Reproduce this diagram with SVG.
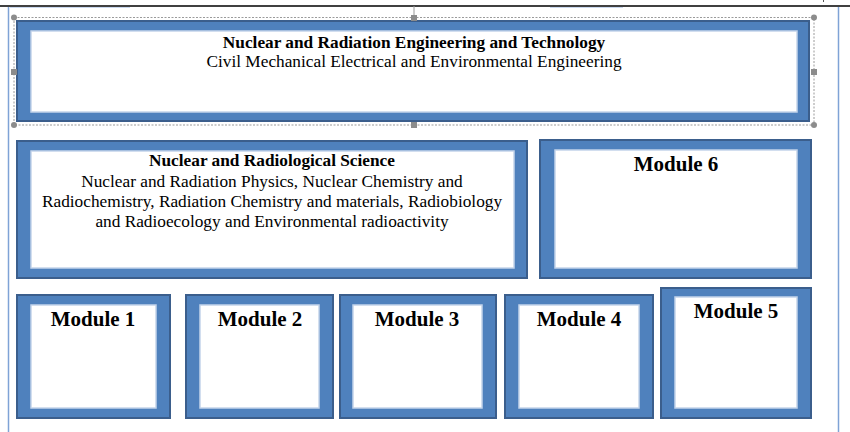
<svg xmlns="http://www.w3.org/2000/svg" width="850" height="432" viewBox="0 0 850 432">
<style>
.frame{fill:#4f81bd;stroke:#3b5e8c;stroke-width:2}
.inner{fill:#ffffff;stroke:#c4d4ea;stroke-width:1.5}
text{font-family:"Liberation Serif","Times New Roman",serif;fill:#000;text-anchor:middle}
.b{font-weight:bold;font-size:17.3px}
.r{font-size:17.3px}
.m{font-weight:bold;font-size:21px}
.sel{fill:none;stroke:#9a9a9a;stroke-width:1;stroke-dasharray:2 1.5}
.hc{fill:#8c8c8c}
</style>
<rect width="850" height="432" fill="#ffffff"/>
<line x1="10" y1="7.5" x2="130" y2="7.5" stroke="#c9d8ee" stroke-width="1"/>
<line x1="550" y1="7.5" x2="623" y2="7.5" stroke="#c9d8ee" stroke-width="1"/>
<line x1="0" y1="6" x2="850" y2="6" stroke="#000" stroke-width="1.5"/>
<line x1="8.5" y1="7" x2="8.5" y2="432" stroke="#7fa3d6" stroke-width="1.5"/>
<line x1="838.5" y1="7" x2="838.5" y2="432" stroke="#7fa3d6" stroke-width="1.5"/>
<line x1="823.5" y1="0" x2="823.5" y2="2" stroke="#555" stroke-width="1"/>

<g id="node-top">
<rect class="frame" x="17" y="21" width="792" height="100"/>
<rect class="inner" x="31" y="31" width="766" height="81"/>
<text class="b" x="414" y="48">Nuclear and Radiation Engineering and Technology</text>
<text class="r" x="414" y="67">Civil Mechanical Electrical and Environmental Engineering</text>
</g>

<g id="selection">
<rect class="sel" x="14" y="17.5" width="800" height="107.5"/>
<line x1="414" y1="6" x2="414" y2="17" stroke="#9a9a9a" stroke-width="1"/>
<circle class="hc" cx="14" cy="17.5" r="3"/>
<circle class="hc" cx="814" cy="17.5" r="3"/>
<circle class="hc" cx="14" cy="125" r="3"/>
<circle class="hc" cx="814" cy="125" r="3"/>
<rect class="hc" x="411" y="15" width="6" height="6"/>
<rect class="hc" x="411" y="122" width="6" height="6"/>
<rect class="hc" x="11" y="69" width="6" height="6"/>
<rect class="hc" x="811" y="69" width="6" height="6"/>
</g>

<g id="node-science">
<rect class="frame" x="17" y="141" width="510" height="137"/>
<rect class="inner" x="31" y="151" width="483" height="117"/>
<text class="b" x="272" y="166">Nuclear and Radiological Science</text>
<text class="r" x="272" y="187">Nuclear and Radiation Physics, Nuclear Chemistry and</text>
<text class="r" x="272" y="207">Radiochemistry, Radiation Chemistry and materials, Radiobiology</text>
<text class="r" x="272" y="227">and Radioecology and Environmental radioactivity</text>
</g>

<g id="node-module6">
<rect class="frame" x="540" y="140" width="271" height="138"/>
<rect class="inner" x="555" y="150" width="242" height="118"/>
<text class="m" x="676" y="171">Module 6</text>
</g>

<g id="node-module1">
<rect class="frame" x="17" y="295" width="153" height="123"/>
<rect class="inner" x="31" y="305" width="125" height="103"/>
<text class="m" x="93" y="326">Module 1</text>
</g>

<g id="node-module2">
<rect class="frame" x="186" y="295" width="147" height="123"/>
<rect class="inner" x="200" y="305" width="119" height="103"/>
<text class="m" x="260" y="326">Module 2</text>
</g>

<g id="node-module3">
<rect class="frame" x="340" y="295" width="156" height="123"/>
<rect class="inner" x="353" y="305" width="129" height="103"/>
<text class="m" x="417" y="326">Module 3</text>
</g>

<g id="node-module4">
<rect class="frame" x="505" y="295" width="148" height="123"/>
<rect class="inner" x="519" y="305" width="120" height="103"/>
<text class="m" x="579" y="326">Module 4</text>
</g>

<g id="node-module5">
<rect class="frame" x="661" y="288" width="150" height="130"/>
<rect class="inner" x="675" y="297" width="122" height="111"/>
<text class="m" x="736" y="318">Module 5</text>
</g>

<g id="connectors"></g>
</svg>
